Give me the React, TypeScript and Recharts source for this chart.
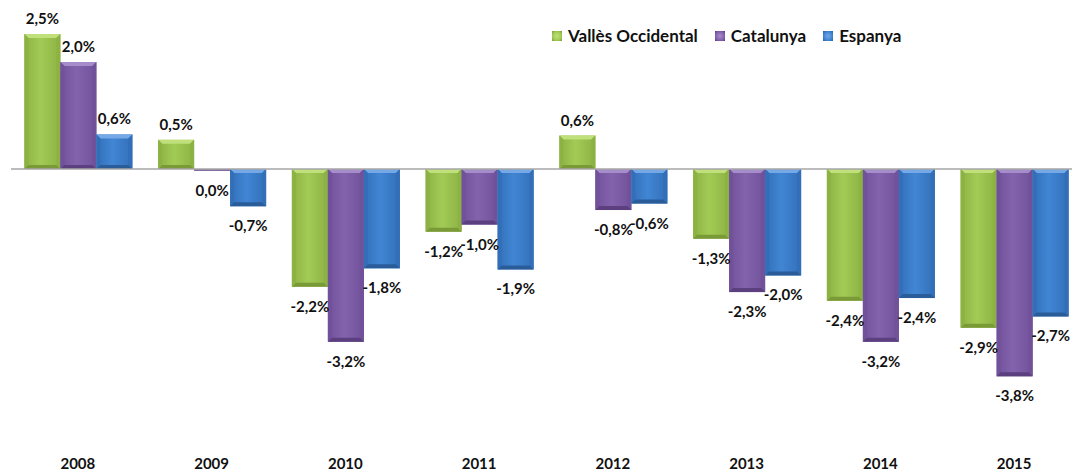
import React from "react";
import { Bar, BarChart, LabelList, ReferenceLine, XAxis, YAxis } from "recharts";

// Variació anual (%) — Vallès Occidental / Catalunya / Espanya

const YEARS = ["2008", "2009", "2010", "2011", "2012", "2013", "2014", "2015"];
const VALLES = [2.5, 0.54, -2.18, -1.16, 0.62, -1.29, -2.44, -2.94];
const CATALUNYA = [1.98, -0.03, -3.2, -1.03, -0.76, -2.28, -3.2, -3.84];
const ESPANYA = [0.64, -0.69, -1.84, -1.86, -0.64, -1.97, -2.39, -2.73];

const data = YEARS.map((year, i) => ({
  year,
  valles: VALLES[i],
  catalunya: CATALUNYA[i],
  espanya: ESPANYA[i],
}));

const FONT = "Lato, 'Open Sans', sans-serif";

type Tone = { id: string; base: string; edge: string; light: string; dark: string };

const TONES: Record<string, Tone> = {
  valles: { id: "g-valles", base: "#a2cb55", edge: "#8db244", light: "#bfe07a", dark: "#7a9a37" },
  catalunya: { id: "g-catalunya", base: "#8463ad", edge: "#70519a", light: "#a78ccb", dark: "#5b3f7e" },
  espanya: { id: "g-espanya", base: "#4186d4", edge: "#336fb8", light: "#74a8e6", dark: "#2a5c9a" },
};

const SERIES = [
  { key: "valles", label: "Vallès Occidental" },
  { key: "catalunya", label: "Catalunya" },
  { key: "espanya", label: "Espanya" },
];

const fmt = (v: number) => `${(Math.round(v * 10) / 10).toFixed(1).replace(".", ",")}%`;

// barra amb bisell (imitació de l'efecte d'Excel)
function BevelBar(props: any) {
  const { x, y, width, height, tone } = props;
  const t: Tone = tone;
  const top = Math.min(y, y + height);
  const bottom = Math.max(y, y + height);
  const h = bottom - top;
  if (!width || h <= 0) return null;
  const b = Math.min(4, h / 2, width / 2);
  const r = x + width;
  return (
    <g>
      <rect x={x} y={top} width={width} height={h} fill={`url(#${t.id})`} />
      <polygon points={`${x},${top} ${r},${top} ${r - b},${top + b} ${x + b},${top + b}`} fill={t.light} />
      <polygon points={`${x},${top} ${x + b},${top + b} ${x + b},${bottom - b} ${x},${bottom}`} fill={t.edge} />
      <polygon points={`${r},${top} ${r - b},${top + b} ${r - b},${bottom - b} ${r},${bottom}`} fill={t.edge} />
      <polygon points={`${x},${bottom} ${x + b},${bottom - b} ${r - b},${bottom - b} ${r},${bottom}`} fill={t.dark} />
    </g>
  );
}

function ValueLabel(props: any) {
  const { x, y, width, height, value } = props;
  const v = Number(value);
  const top = Math.min(y, y + height);
  const bottom = Math.max(y, y + height);
  const ty = v >= 0 ? top - 10 : bottom + 25;
  return (
    <text
      x={x + width / 2}
      y={ty}
      textAnchor="middle"
      fontFamily={FONT}
      fontWeight={700}
      fontSize={15}
      fill="#111"
    >
      {fmt(v)}
    </text>
  );
}

function YearTick(props: any) {
  const { x, y, payload } = props;
  return (
    <text x={x} y={y + 30} textAnchor="middle" fontFamily={FONT} fontWeight={700} fontSize={15} fill="#111">
      {payload.value}
    </text>
  );
}

// llegenda superposada (no resta alçada a l'àrea del gràfic)
function LegendBox() {
  return (
    <div
      style={{
        position: "absolute",
        top: 26,
        left: 552,
        display: "flex",
        alignItems: "center",
        gap: 17,
        fontFamily: FONT,
        fontWeight: 700,
        fontSize: 17,
        lineHeight: "20px",
        color: "#111",
        whiteSpace: "nowrap",
      }}
    >
      {SERIES.map((s) => {
        const t = TONES[s.key];
        return (
          <div key={s.key} style={{ display: "flex", alignItems: "center", gap: 6 }}>
            <span
              style={{
                display: "inline-block",
                width: 10,
                height: 10,
                background: `radial-gradient(circle, ${t.light} 0%, ${t.base} 60%, ${t.dark} 100%)`,
              }}
            />
            <span>{s.label}</span>
          </div>
        );
      })}
    </div>
  );
}

export default function App() {
  return (
    <div style={{ position: "fixed", left: 0, top: 0, width: 1072, height: 471, overflow: "hidden", background: "#fff" }}>
      <BarChart
        width={1081}
        height={471}
        data={data}
        margin={{ top: 7, right: 0, bottom: 0, left: 11 }}
        barCategoryGap="10%"
        barGap={0}
      >
        <defs>
          {Object.values(TONES).map((t) => (
            <linearGradient key={t.id} id={t.id} x1="0" y1="0" x2="1" y2="0">
              <stop offset="0%" stopColor={t.edge} />
              <stop offset="45%" stopColor={t.base} />
              <stop offset="100%" stopColor={t.edge} />
            </linearGradient>
          ))}
        </defs>
        <XAxis
          dataKey="year"
          height={32}
          axisLine={false}
          tickLine={false}
          tickSize={0}
          tickMargin={0}
          tick={<YearTick />}
          interval={0}
        />
        <YAxis hide domain={[-5, 3]} />
        <ReferenceLine y={0} stroke="#a6a6a6" strokeWidth={1.5} />
        {SERIES.map((s) => (
          <Bar
            key={s.key}
            dataKey={s.key}
            name={s.label}
            isAnimationActive={false}
            shape={(p: any) => <BevelBar {...p} tone={TONES[s.key]} />}
          >
            <LabelList dataKey={s.key} content={<ValueLabel />} />
          </Bar>
        ))}
      </BarChart>
      <LegendBox />
    </div>
  );
}
